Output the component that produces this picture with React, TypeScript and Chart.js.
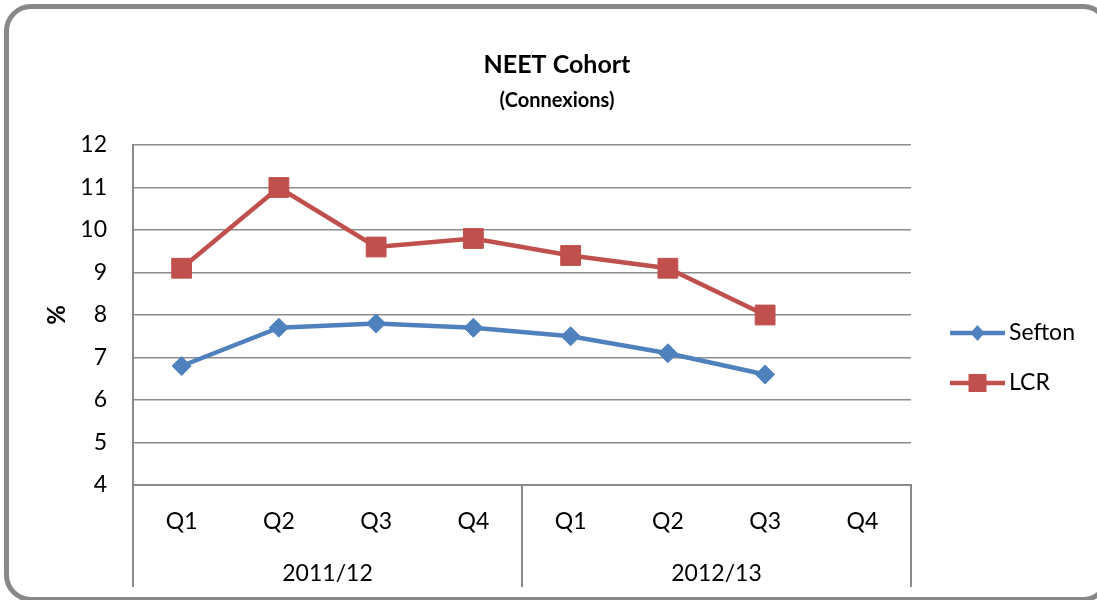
import React, { useEffect, useRef } from 'react';
import { Chart, registerables } from 'chart.js';

Chart.register(...registerables);

// ---- data ----
const quarters = ['Q1', 'Q2', 'Q3', 'Q4', 'Q1', 'Q2', 'Q3', 'Q4'];
const years = ['2011/12', '2012/13'];
const seftonValues: (number | null)[] = [6.8, 7.7, 7.8, 7.7, 7.5, 7.1, 6.6, null];
const lcrValues: (number | null)[] = [9.1, 11.0, 9.6, 9.8, 9.4, 9.1, 8.0, null];
const yMin = 4;
const yMax = 12;
const yStep = 1;
const titleText = 'NEET Cohort';
const subtitleText = '(Connexions)';
const yTitleText = '%';

const BLUE = '#4F81BD';
const RED = '#C0504D';
const GRID = '#8c8c8c';
const AXIS = '#8a8a8a';
const FONT = 'Lato';

const separatorPlugin = {
  id: 'groupSeparators',
  afterDraw(chart: any) {
    const x2 = chart.scales.x2;
    if (!x2) return;
    const { ctx, chartArea } = chart;
    const n = x2.getLabels().length;
    ctx.save();
    ctx.strokeStyle = AXIS;
    ctx.lineWidth = 2;
    for (let i = 0; i <= n; i++) {
      const px = Math.round(x2.left + (x2.width * i) / n);
      ctx.beginPath();
      ctx.moveTo(px, chartArea.bottom);
      ctx.lineTo(px, chartArea.bottom + 102);
      ctx.stroke();
    }
    ctx.restore();
  },
};

const legendPlugin = {
  id: 'excelLegend',
  afterDraw(chart: any) {
    const { ctx } = chart;
    const items = chart.data.datasets;
    ctx.save();
    items.forEach((ds: any, i: number) => {
      const y = 333 + i * 50;
      const x1 = 950;
      const x2 = 1005;
      const mx = (x1 + x2) / 2;
      ctx.strokeStyle = ds.borderColor;
      ctx.lineWidth = 4.5;
      ctx.beginPath();
      ctx.moveTo(x1, y);
      ctx.lineTo(x2, y);
      ctx.stroke();
      ctx.fillStyle = ds.backgroundColor;
      ctx.beginPath();
      if (ds.pointStyle === 'rectRot') {
        ctx.moveTo(mx - 7, y);
        ctx.lineTo(mx, y - 8);
        ctx.lineTo(mx + 7, y);
        ctx.lineTo(mx, y + 8);
        ctx.closePath();
      } else {
        ctx.rect(mx - 9, y - 9, 18, 18);
      }
      ctx.fill();
      ctx.fillStyle = '#000';
      ctx.font = `23px ${FONT}`;
      ctx.textAlign = 'left';
      ctx.textBaseline = 'middle';
      ctx.fillText(ds.label, 1009, y);
    });
    ctx.restore();
  },
};

export default function App() {
  const canvasRef = useRef<HTMLCanvasElement | null>(null);

  useEffect(() => {
    if (!canvasRef.current) return;
    Chart.defaults.font.family = FONT;
    Chart.defaults.color = '#000';
    const chart = new Chart(canvasRef.current, {
      type: 'line',
      data: {
        labels: quarters,
        datasets: [
          {
            label: 'Sefton',
            data: seftonValues,
            borderColor: BLUE,
            backgroundColor: BLUE,
            borderWidth: 4.5,
            pointStyle: 'rectRot',
            pointRadius: 9.5,
            pointBorderWidth: 1,
            pointBackgroundColor: BLUE,
            pointBorderColor: BLUE,
            tension: 0,
            spanGaps: false,
          },
          {
            label: 'LCR',
            data: lcrValues,
            borderColor: RED,
            backgroundColor: RED,
            borderWidth: 4.5,
            pointStyle: 'rect',
            pointRadius: 14,
            pointBorderWidth: 1,
            pointBackgroundColor: RED,
            pointBorderColor: RED,
            tension: 0,
            spanGaps: false,
          },
        ],
      },
      options: {
        responsive: false,
        animation: false,
        layout: { padding: { left: 17, right: 0, top: 0, bottom: 13 } },
        plugins: {
          legend: { display: false },
          tooltip: { enabled: false },
          title: {
            display: true,
            text: titleText,
            font: { size: 25, weight: 'bold', family: FONT, lineHeight: 1.2 },
            padding: { top: 50, bottom: 0 },
            color: '#000',
          },
          subtitle: {
            display: true,
            text: subtitleText,
            font: { size: 20, weight: 'bold', family: FONT, lineHeight: 1.2 },
            padding: { top: 9, bottom: 32 },
            color: '#000',
          },
        },
        scales: {
          x: {
            type: 'category',
            position: 'bottom',
            weight: 0,
            offset: true,
            grid: { display: false },
            border: { display: true, color: AXIS, width: 2 },
            ticks: { font: { size: 23, lineHeight: 1.2 }, padding: 15, maxRotation: 0, autoSkip: false },
            afterFit: (s: any) => { s.height = 50; },
          },
          x2: {
            type: 'category',
            position: 'bottom',
            weight: 1,
            labels: years,
            offset: true,
            grid: { display: false },
            border: { display: false },
            ticks: { font: { size: 23, lineHeight: 1.2 }, padding: 17, maxRotation: 0, autoSkip: false },
            afterFit: (s: any) => { s.height = 52; },
          },
          y: {
            type: 'linear',
            position: 'left',
            min: yMin,
            max: yMax,
            ticks: { stepSize: yStep, font: { size: 23 }, padding: 26 },
            grid: { color: GRID, lineWidth: 1.5, drawTicks: false },
            border: { display: true, color: AXIS, width: 2 },
            title: {
              display: true,
              text: yTitleText,
              font: { size: 24, weight: 'bold', lineHeight: 1.2 },
              padding: { top: 26, bottom: 0 },
            },
            afterFit: (s: any) => { s.width = 116; },
          },
          y2: {
            type: 'linear',
            position: 'right',
            display: true,
            ticks: { display: false },
            grid: { display: false },
            border: { display: false },
            afterFit: (s: any) => { s.width = 186; },
          },
        },
      },
      plugins: [separatorPlugin, legendPlugin],
    } as any);
    return () => chart.destroy();
  }, []);

  return (
    <div style={{ position: 'fixed', left: 0, top: 0, width: 1097, height: 600, overflow: 'hidden', background: '#fff' }}>
      <div
        style={{
          position: 'absolute',
          left: 4,
          top: 4,
          width: 1106,
          height: 598,
          boxSizing: 'border-box',
          border: '5px solid #888888',
          borderRadius: 27,
        }}
      />
      <canvas
        ref={canvasRef}
        width={1097}
        height={600}
        style={{ position: 'absolute', left: 0, top: 0, width: 1097, height: 600 }}
      />
    </div>
  );
}
